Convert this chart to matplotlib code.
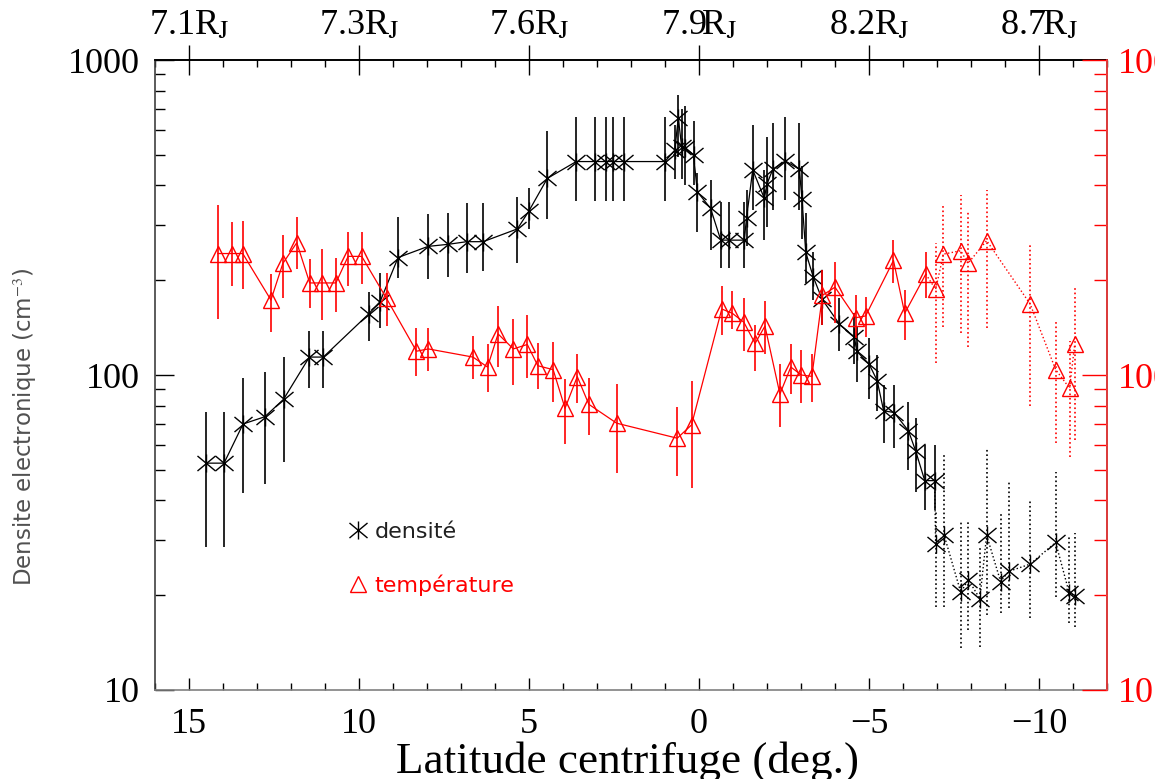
import numpy as np
import matplotlib
matplotlib.use('Agg')
import matplotlib.pyplot as plt
from matplotlib.path import Path
from matplotlib.lines import Line2D
from matplotlib.ticker import MultipleLocator, FixedLocator, FuncFormatter, LogLocator, NullFormatter

plt.rcParams['mathtext.fontset'] = 'stix'
SERIF = 'Liberation Serif'

# densite (solid part)
dens_lat = [14.49, 13.97, 13.41, 12.77, 12.22, 11.46, 11.05, 9.72, 9.38, 8.85,
            7.97, 7.37, 6.83, 6.35, 5.34, 5.00, 4.46, 3.61, 3.07, 2.74,
            2.53, 2.21, 1.00, 0.71, 0.61, 0.51, 0.41, 0.16, 0.05, -0.34,
            -0.64, -0.87, -1.33, -1.40, -1.58, -1.92, -2.00, -2.17, -2.54, -2.95,
            -3.03, -3.14, -3.36, -3.62, -4.13, -4.57, -4.64, -5.01, -5.24, -5.43,
            -5.74, -6.16, -6.37, -6.64, -6.93]
dens_val = [52.5, 52.5, 69.9, 73.7, 83.7, 114, 114, 156, 171, 236,
            256, 260, 265, 265, 291, 332, 421, 476, 476, 476,
            476, 476, 476, 518, 656, 530, 525, 499, 382, 338,
            268, 268, 268, 316, 448, 364, 404, 450, 478, 450,
            361, 245, 205, 174, 145, 132, 119, 108, 96, 77,
            76, 66.5, 57.5, 46.2, 46.2]
dens_hi = [76.5, 76.5, 97.8, 102, 114, 138, 138, 183, 211, 318,
           324, 327, 352, 352, 367, 392, 595, 658, 658, 658,
           658, 658, 658, 620, 774, 700, 716, 640, 438, 416,
           355, 355, 355, 387, 622, 448, 571, 631, 659, 631,
           460, 327, 246, 215, 176, 157, 142, 131, 116, 93,
           93, 82, 73, 60, 60]
dens_lo = [28.4, 28.4, 42.2, 45.1, 53, 90.8, 90.8, 128, 141, 203,
           202, 205, 211, 214, 227, 291, 312, 358, 358, 358,
           358, 358, 358, 420, 493, 420, 401, 400, 285, 249,
           218, 218, 218, 256, 334, 268, 296, 334, 359, 334,
           270, 196, 173, 144, 119, 108, 95, 84, 77, 61,
           58.5, 50, 42.6, 37.3, 37.3]

# densite (dotted part)
dens_lat_far = [-6.96, -7.21, -7.70, -7.92, -8.26, -8.46, -8.87, -9.11, -9.74, -10.49, -10.89, -11.05]
dens_val_far = [29.1, 31.0, 20.4, 22.4, 19.5, 31.0, 22.1, 23.8, 25.1, 29.4, 20.3, 19.9]
dens_hi_far = [37.3, 55.7, 34.2, 34.7, 28.5, 58.5, 36.8, 45.8, 40.1, 49.3, 31.0, 31.4]
dens_lo_far = [18.3, 18.3, 13.6, 15.5, 13.7, 17.3, 17.5, 18.2, 16.9, 19.8, 16.3, 15.9]

# temperature (solid part)
temp_lat = [14.15, 13.75, 13.42, 12.59, 12.24, 11.83, 11.45, 11.08, 10.68, 10.32,
            9.92, 9.19, 8.31, 7.96, 6.65, 6.22, 5.91, 5.46, 5.05, 4.74,
            4.29, 3.94, 3.58, 3.24, 2.42, 0.64, 0.22, -0.67, -0.98, -1.32,
            -1.65, -1.94, -2.38, -2.70, -3.01, -3.32, -3.63, -4.00, -4.61, -4.90,
            -5.72, -6.05, -6.67]
temp_val = [243, 243, 243, 173, 226, 263, 196, 196, 196, 238,
            238, 175, 119, 121, 114, 106, 135, 121, 125, 107,
            104, 78.4, 98.8, 80.7, 70.3, 63, 69.4, 162, 157, 147,
            126, 143, 87, 106, 100, 99, 179, 190, 152, 154,
            231, 157, 209]
temp_hi = [347, 306, 308, 209, 278, 318, 233, 251, 236, 285,
           285, 211, 141, 141, 133, 125, 165, 151, 155, 126,
           127, 96.9, 117, 98, 93.6, 79.3, 95.7, 192, 185, 175,
           144, 172, 108, 125, 120, 117, 215, 229, 179, 177,
           268, 186, 246]
temp_lo = [151, 192, 187, 137, 175, 217, 163, 150, 158, 192,
           194, 143, 99.5, 103, 96.9, 88.1, 106, 92.9, 97.6, 90.1,
           82.3, 60.4, 81.7, 64.4, 48.8, 47.8, 43.7, 134, 140, 119,
           103, 117, 68.2, 86.8, 81.3, 82.3, 144, 146, 131, 132,
           196, 129, 175]

# temperature (dotted part)
temp_lat_far = [-6.96, -7.19, -7.70, -7.91, -8.46, -9.74, -10.49, -10.90, -11.05]
temp_val_far = [187, 242, 248, 226, 267, 168, 104, 90.8, 125]
temp_hi_far = [262, 344, 373, 330, 387, 259, 147, 128, 189]
temp_lo_far = [109, 142, 136, 123, 141, 79.7, 61, 55, 62.2]

# top axis: distance in Jupiter radii at the bottom major ticks
top_ticks = [15, 10, 5, 0, -5, -10]
top_labels = ['7.1', '7.3', '7.6', '7.9', '8.2', '8.7']

RED = '#ff0000'
MS = 13

# IDL-like asterisk: vertical bar + X
ast = Path([(0, -0.9), (0, 0.9), (-0.9, -0.75), (0.9, 0.75), (-0.9, 0.75), (0.9, -0.75)],
           [Path.MOVETO, Path.LINETO] * 3)


def err(val, lo, hi):
    val = np.array(val)
    return [val - np.array(lo), np.array(hi) - val]


fig = plt.figure(figsize=(11.55, 7.79), dpi=100)
ax = fig.add_axes([155 / 1155, 89 / 779, 952 / 1155, 630 / 779])
ax.set_xlim(16, -12)
ax.set_yscale('log')
ax.set_ylim(10, 1000)

# density
ax.errorbar(dens_lat, dens_val, yerr=err(dens_val, dens_lo, dens_hi), fmt='none',
            ecolor='k', elinewidth=1.2)
ax.plot(dens_lat, dens_val, color='k', lw=0.9, marker=ast, ms=MS, mew=1.0)
eb = ax.errorbar(dens_lat_far, dens_val_far, yerr=err(dens_val_far, dens_lo_far, dens_hi_far),
                 fmt='none', ecolor='k', elinewidth=1.2)
eb[2][0].set_linestyle(':')
ax.plot([dens_lat[-1]] + dens_lat_far, [dens_val[-1]] + dens_val_far, color='k', lw=1.0, ls=':')
ax.plot(dens_lat_far, dens_val_far, color='k', ls='none', marker=ast, ms=MS, mew=1.0)

# temperature on its own (right) axis
ax2 = ax.twinx()
ax2.set_yscale('log')
ax2.set_ylim(10, 1000)
ax2.errorbar(temp_lat, temp_val, yerr=err(temp_val, temp_lo, temp_hi), fmt='none',
             ecolor=RED, elinewidth=1.2)
ax2.plot(temp_lat, temp_val, color=RED, lw=0.9, marker='^', ms=11, mfc='none', mec=RED, mew=1.0)
eb = ax2.errorbar(temp_lat_far, temp_val_far, yerr=err(temp_val_far, temp_lo_far, temp_hi_far),
                  fmt='none', ecolor=RED, elinewidth=1.2)
eb[2][0].set_linestyle(':')
ax2.plot([temp_lat[-1]] + temp_lat_far, [temp_val[-1]] + temp_val_far, color=RED, lw=1.0, ls=':')
ax2.plot(temp_lat_far, temp_val_far, color=RED, ls='none', marker='^', ms=11, mfc='none',
         mec=RED, mew=1.0)

# bottom axis
ax.xaxis.set_major_locator(FixedLocator(top_ticks))
ax.xaxis.set_minor_locator(MultipleLocator(1))
ax.xaxis.set_major_formatter(FuncFormatter(lambda v, p: f'{v:g}'.replace('-', '\u2212')))
ax.tick_params(axis='x', which='major', direction='in', length=9, width=1.0, pad=13,
               labelsize=26, labelfontfamily=SERIF, top=False)
ax.tick_params(axis='x', which='minor', direction='in', length=4.8, width=1.0, top=False)

# left axis
ax.yaxis.set_major_locator(LogLocator(base=10))
ax.yaxis.set_major_formatter(FuncFormatter(lambda v, p: f'{v:g}'))
ax.yaxis.set_minor_formatter(NullFormatter())
ax.tick_params(axis='y', which='major', direction='in', length=13.5, width=1.0, pad=11,
               labelsize=26, labelfontfamily=SERIF, right=False)
ax.tick_params(axis='y', which='minor', direction='in', length=7, width=1.0, right=False)

# right axis (red)
ax2.yaxis.set_major_formatter(FuncFormatter(lambda v, p: f'{v:g}'))
ax2.yaxis.set_minor_formatter(NullFormatter())
ax2.tick_params(axis='y', which='major', direction='in', length=18, width=1.0, pad=8,
                labelsize=26, labelfontfamily=SERIF, colors=RED)
ax2.tick_params(axis='y', which='minor', direction='in', length=9.5, width=1.0, colors=RED)
for s in ['left', 'top', 'bottom']:
    ax2.spines[s].set_visible(False)
ax2.spines['right'].set_color('#ff4040')
ax2.spines['right'].set_linewidth(1.2)

ax.spines['bottom'].set_color('#808080')
ax.spines['left'].set_color('#404040')
ax.spines['top'].set_color('k')
for s in ax.spines.values():
    s.set_linewidth(1.2)

# top axis with distance labels
top = ax.secondary_xaxis('top')
top.xaxis.set_major_locator(FixedLocator(top_ticks))
top.xaxis.set_minor_locator(MultipleLocator(1))
top.set_xticklabels([t + r'R$_{\mathrm{J}}$' for t in top_labels])
top.tick_params(which='major', direction='inout', length=22, width=1.0, pad=2,
                labelsize=26, labelfontfamily=SERIF)
top.tick_params(which='minor', direction='in', length=4.8, width=1.0)
top.spines['top'].set_color('k')
top.spines['top'].set_linewidth(1.2)

fig.text(628 / 1155, 6 / 779, 'Latitude centrifuge (deg.)', ha='center', va='baseline',
         fontsize=32.5, family=SERIF)
fig.text(25 / 1155, 1 - 427 / 779, 'Densite electronique (cm$^{-3}$)', rotation=90,
         ha='center', va='center', fontsize=16.5, color='#505050')

# legend
handles = [Line2D([], [], color='k', ls='none', marker=ast, ms=MS, mew=1.0),
           Line2D([], [], color=RED, ls='none', marker='^', ms=11, mfc='none', mew=1.0)]
leg = ax.legend(handles, ['densité', 'température'], loc='upper left',
                bbox_to_anchor=(0.204, 0.267), frameon=False, fontsize=16,
                handlelength=0.8, handletextpad=0.35, labelspacing=1.45,
                borderpad=0, borderaxespad=0)
leg.get_texts()[0].set_color('#202020')
leg.get_texts()[1].set_color(RED)

fig.savefig('out.png', dpi=100)
